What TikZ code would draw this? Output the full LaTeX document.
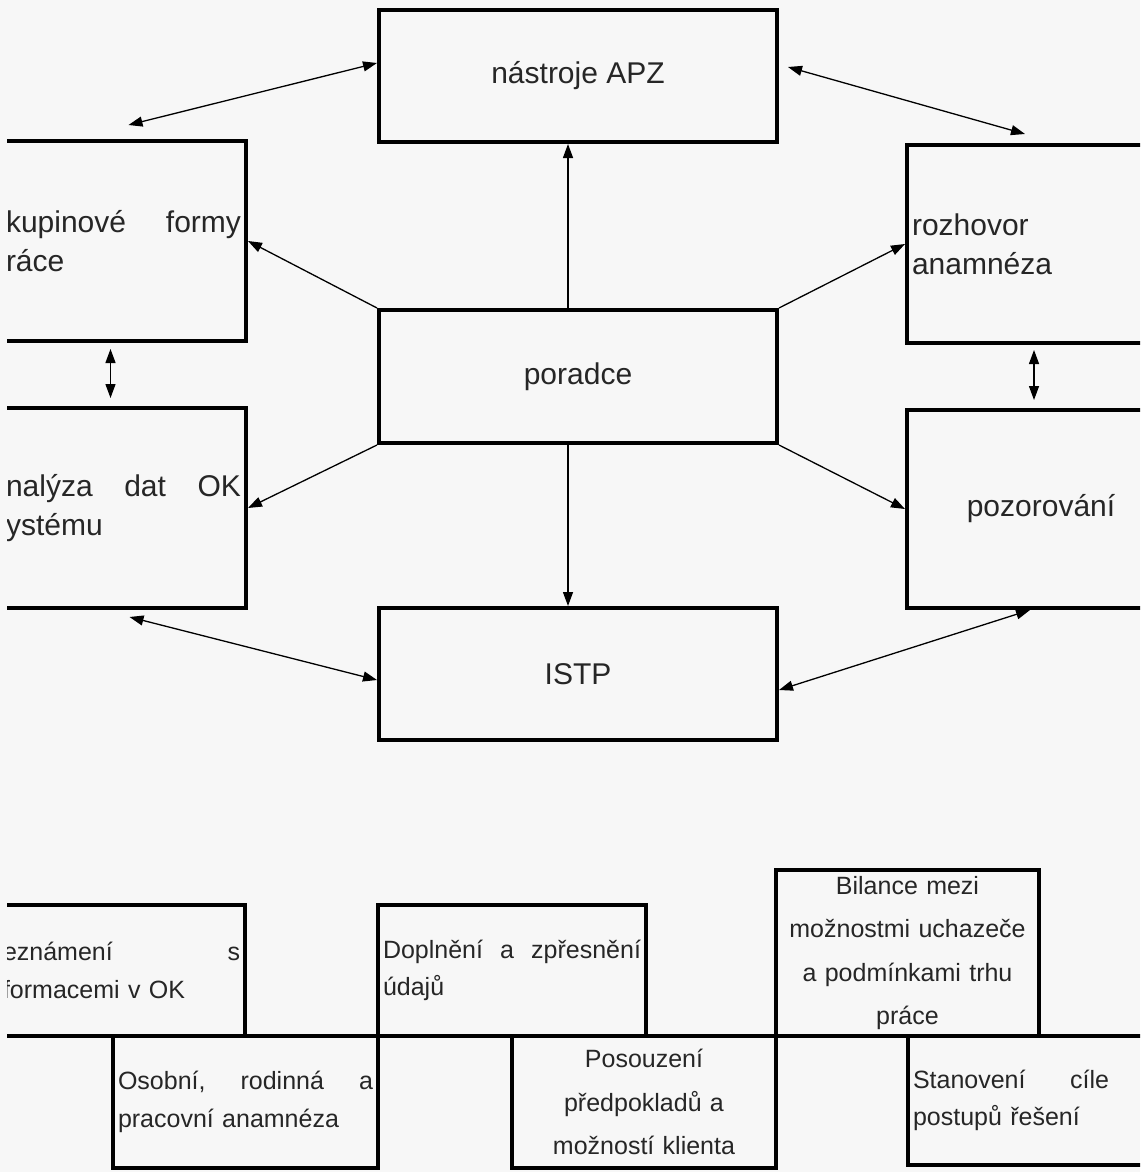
\documentclass[tikz,border=0pt]{standalone}
\usepackage{fontspec}
\setmainfont{Liberation Sans}
\usetikzlibrary{arrows.meta}

\begin{document}
\begin{tikzpicture}[x=1pt, y=-1pt,
    >={Triangle[length=14pt,width=10pt]},
    box/.style={draw, line width=4pt, inner xsep=5pt, inner ysep=0pt, text=black!85, font=\fontsize{30}{39}\selectfont},
    small/.style={font=\fontsize{25}{37.5}\selectfont},
    tall/.style={font=\fontsize{25}{43.5}\selectfont},
    link/.style={line width=1.3pt}]
    \useasboundingbox (0,0) rectangle (1140,1172);
    \fill[black!3] (0,0) rectangle (1140,1172);
    \clip (7,0) rectangle (1140,1172);

    \node[box, minimum width=398pt, minimum height=132pt](apz) at (578,76) {nástroje APZ};
    \node[box, minimum width=398pt, minimum height=133pt](porad) at (578,376.5) {poradce};
    \node[box, minimum width=398pt, minimum height=132pt](istp) at (578,674) {ISTP};
    \node[box, text width=235pt, minimum height=200pt, align=left](lt) at (123.5,241) {kupinové\hfill formy\\ráce};
    \node[box, text width=235pt, minimum height=200pt, align=left](lm) at (123.5,508) {nalýza\hfill dat\hfill OK\\ystému};
    \node[box, text width=258pt, minimum height=198pt, align=left](rt) at (1041,244) {rozhovor\\anamnéza};
    \node[box, minimum width=268pt, minimum height=198pt](rm) at (1041,509) {pozorování};

    \foreach \c/\t in {north west/lt.east, north east/rt.west, south west/lm.east, south east/rm.west}
    \draw[link,->] (porad.\c) -- (\t);

    \draw[link,->] ([xshift=-10pt]porad.north) -- ([xshift=-10pt]apz.south);
    \draw[link,->] ([xshift=-10pt]porad.south) -- ([xshift=-10pt]istp.north);
    \draw[link,<->] ([yshift=13pt]apz.west) -- ([xshift=5pt,yshift=14pt]lt.north);
    \draw[link,<->] ([xshift=9pt,yshift=9pt]apz.east) -- ([xshift=-16pt,yshift=9pt]rt.north);
    \draw[link,<->] ([xshift=-13pt,yshift=-6pt]lt.south) -- ([xshift=-13pt,yshift=8pt]lm.north);
    \draw[link,<->] ([xshift=-7pt,yshift=-5pt]rt.south) -- ([xshift=-7pt,yshift=8pt]rm.north);
    \draw[link,<->] ([xshift=6pt,yshift=-7pt]lm.south) -- ([yshift=-6pt]istp.west);
    \draw[link,<->] ([yshift=-16pt]istp.east) -- ([xshift=-11pt]rm.south);

    \node[box, small, text width=237pt, minimum height=131pt, align=left](sez) at (121.5,970.5) {eznámení\hfill s\\formacemi v OK};
    \node[box, small, text width=258pt, minimum height=131pt, align=left](dop) at (512,970.5) {Doplnění\hfill a\hfill zpřesnění\\údajů};
    \node[box, tall, text width=253pt, minimum height=166pt, align=center](bil) at (907.5,953) {Bilance mezi\\možnostmi uchazeče\\a podmínkami trhu\\práce};
    \node[box, small, text width=255pt, minimum height=132pt, align=left](oso) at (245.5,1102) {Osobní,\hfill rodinná\hfill a\\pracovní anamnéza};
    \node[box, tall, text width=254pt, minimum height=132pt, align=center](pos) at (644,1102) {Posouzení\\předpokladů a\\možností klienta};
    \node[box, small, text width=257pt, minimum height=129pt, align=left](sta) at (1041.5,1100.5) {Stanovení\hspace{1.45em} cíle\\postupů řešení};
\end{tikzpicture}
\end{document}
